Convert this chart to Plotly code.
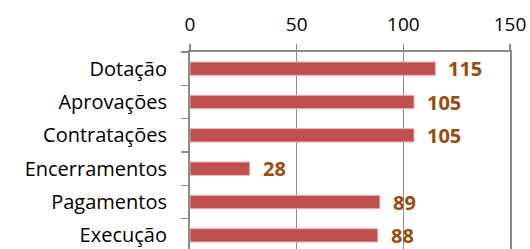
import plotly.graph_objects as go

categories = ["Dotação", "Aprovações", "Contratações", "Encerramentos", "Pagamentos", "Execução"]
values = [115, 105, 105, 28, 89, 88]
x_ticks = [0, 50, 100, 150]

bar_color = "#C0504D"
label_color = "#9C4A0A"
grid_color = "#8C8C8C"
font_family = "Open Sans, Liberation Sans, sans-serif"

fig = go.Figure()
fig.add_trace(go.Bar(
    x=values, y=categories, orientation="h",
    marker=dict(color=bar_color, line=dict(color="#E8B4B3", width=1)),
    hoverinfo="skip",
))

for c, v in zip(categories, values):
    fig.add_annotation(
        x=v, y=c, text=f"<b>{v}</b>", showarrow=False,
        xanchor="left", yanchor="middle", xshift=11,
        font=dict(family=font_family, size=20, color=label_color),
    )

fig.update_layout(
    width=530, height=249,
    margin=dict(l=190, r=20, t=52, b=0),
    paper_bgcolor="white", plot_bgcolor="white",
    showlegend=False,
    bargap=0.6,
    font=dict(family=font_family, size=20, color="black"),
    xaxis=dict(
        side="top", range=[0, 150], tickvals=x_ticks,
        showgrid=True, gridcolor=grid_color, gridwidth=1.5,
        showline=True, linecolor=grid_color, linewidth=2,
        ticks="outside", ticklen=6, tickcolor=grid_color, tickwidth=1.5,
        ticklabelstandoff=5, zeroline=False, ticklabeloverflow="allow",
        tickfont=dict(size=19, color="black"),
    ),
    yaxis=dict(
        range=[5.41, -0.5], type="category",
        showline=True, linecolor=grid_color, linewidth=2, mirror=True,
        ticks="outside", ticklen=7, tickcolor=grid_color, tickwidth=1.5,
        tickson="boundaries", showgrid=False,
        ticklabelstandoff=17,
        tickfont=dict(size=20, color="black"),
    ),
)

fig.write_html(
    "out.html",
    config={"displayModeBar": False, "staticPlot": True},
    post_script="document.body.style.margin='0';document.body.style.overflow='hidden';",
)
